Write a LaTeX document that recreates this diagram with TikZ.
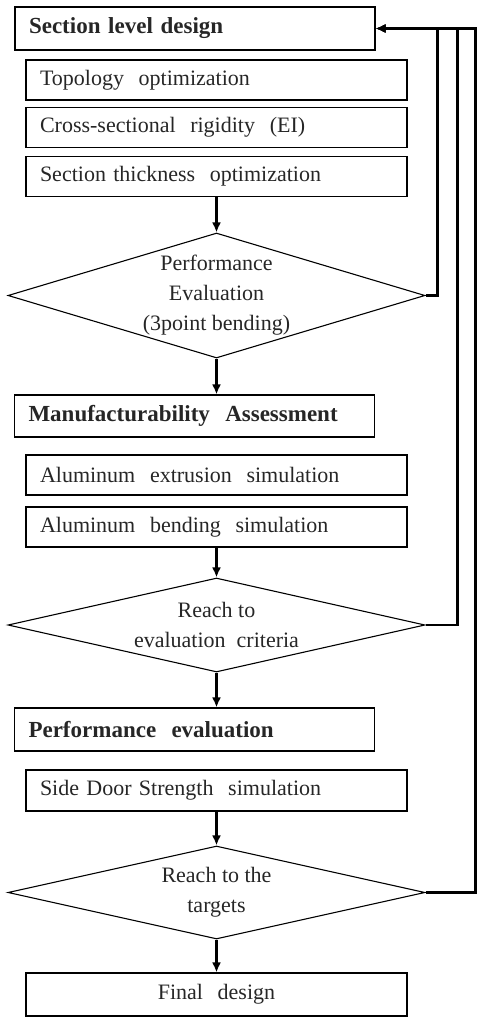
\documentclass[tikz,border=0pt]{standalone}
\usepackage{fontspec}
\setmainfont{Liberation Serif}
\usetikzlibrary{shapes.geometric,arrows.meta}

\begin{document}
\begin{tikzpicture}[x=1pt,y=-1pt,
  every node/.style={font=\fontsize{22}{30}\selectfont, text=black!85},
  stage/.style={draw, line width=1.1pt, text width=332pt, inner xsep=14pt, minimum height=43pt, align=left, font=\fontsize{23}{30}\selectfont\bfseries},
  task/.style={draw, line width=1.1pt, text width=353pt, inner xsep=14pt, minimum height=40pt, align=left},
  check/.style={draw, line width=1.1pt, diamond, aspect=3.3, inner sep=-4pt, minimum width=417pt, align=center},
  flow/.style={line width=2.2pt, -{Latex[length=10pt,width=9pt]}}
]
\useasboundingbox (0,0) rectangle (477,1017);

% Section level design
\node[stage] (sld) at (195,28.5) {Section level design};
\node[task] (topo) at (216.5,80) {Topology~ optimization};
\node[task] (rigid) at (216.5,127.5) {Cross-sectional~ rigidity~ (EI)};
\node[task] (thick) at (216.5,176.5) {Section thickness~ optimization};
\node[check, minimum height=125pt] (perf) at (216.5,295.5) {Performance\\Evaluation\\(3point bending)};

% Manufacturability
\node[stage, minimum height=42pt] (manuf) at (194.5,416) {Manufacturability~ Assessment};
\node[task] (extr) at (216.5,475) {Aluminum~ extrusion~ simulation};
\node[task] (bend) at (216.5,527) {Aluminum~ bending~ simulation};
\node[check, minimum height=94pt] (crit) at (216.5,625) {Reach to\\evaluation~ criteria};

% Performance evaluation
\node[stage] (peval) at (194.5,729.5) {Performance~ evaluation};
\node[task, minimum height=41pt] (door) at (216.5,790.5) {Side Door Strength~ simulation};
\node[check, minimum height=93pt] (target) at (216.5,892.5) {Reach to the\\targets};
\node[task, align=center, minimum height=43pt] (final) at (216.5,994.5) {Final~ design};

% Downward flow
\draw[flow] (thick.south) -- (perf.north);
\draw[flow] (perf.south) -- (perf.south |- manuf.north);
\draw[flow] (bend.south) -- (crit.north);
\draw[flow] (crit.south) -- (crit.south |- peval.north);
\draw[flow] (door.south) -- (target.north);
\draw[flow] (target.south) -- (final.north);

% Feedback loops
\draw[flow] (perf.east) -- ++(12,0) |- (sld.east);
\draw[flow] (crit.east) -- ++(32,0) |- (sld.east);
\draw[flow] (target.east) -- ++(50,0) |- (sld.east);

\end{tikzpicture}
\end{document}
